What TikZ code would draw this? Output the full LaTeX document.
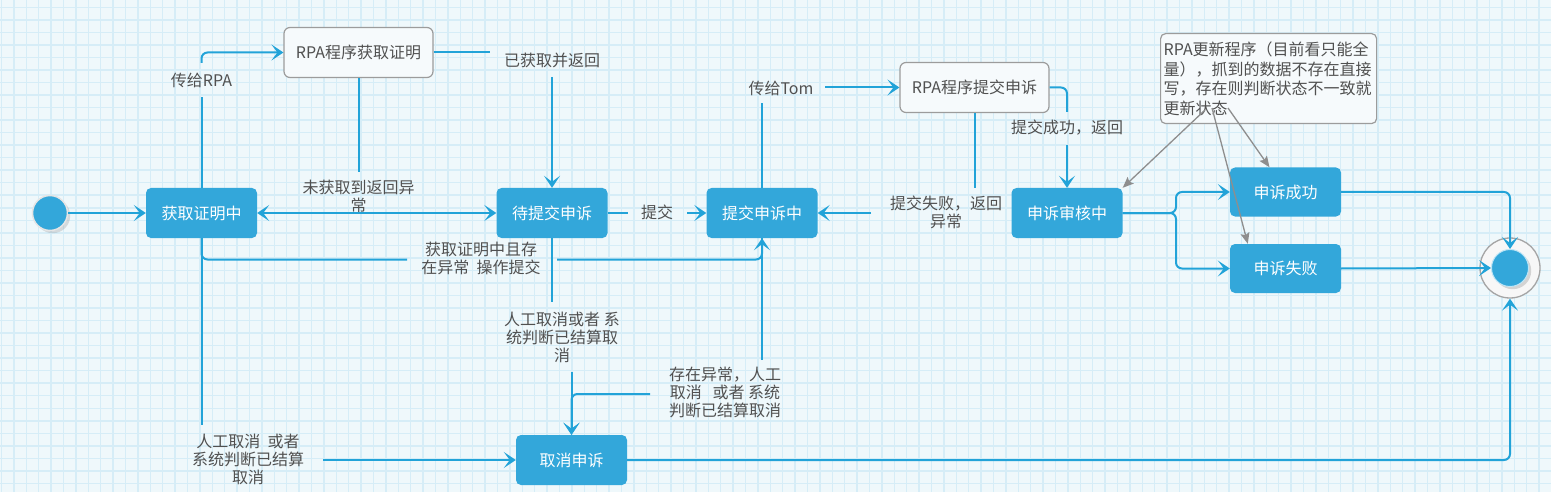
\documentclass[tikz,border=0pt]{standalone}
\usepackage{fontspec}
\setmainfont{Noto Sans CJK SC}
\usetikzlibrary{arrows.meta,shadows}
\definecolor{bg}{HTML}{EFF8FB}
\definecolor{gridc}{HTML}{D6EDF7}
\definecolor{boxblue}{HTML}{33A7DA}
\definecolor{lineblue}{HTML}{22A3D8}
\definecolor{txt}{HTML}{505050}
\definecolor{notegray}{HTML}{8E8E8E}
\definecolor{rpafill}{HTML}{F6FAFC}
\definecolor{rpadraw}{HTML}{9C9C9C}
\definecolor{ringgray}{HTML}{A5A5A5}
\definecolor{innerring}{HTML}{BFE5F5}
\begin{document}
\begin{tikzpicture}[x=1pt,y=-1pt,
  every node/.style={font=\fontsize{16}{18}\selectfont},
  state/.style={rectangle, rounded corners=5pt, fill=boxblue, text=white, minimum width=111pt, minimum height=50pt, inner sep=0pt},
  rpabox/.style={rectangle, rounded corners=6pt, fill=rpafill, draw=rpadraw, line width=1.2pt, text=txt, minimum width=149pt, minimum height=50pt, inner sep=0pt},
  lbl/.style={text=txt, align=center, inner sep=0pt},
  conn/.style={draw=lineblue, line width=2pt, rounded corners=6pt},
  arr/.style={-{Stealth[length=12pt,width=16pt,inset=6pt]}},
  arrboth/.style={{Stealth[length=12pt,width=16pt,inset=6pt]}-{Stealth[length=12pt,width=16pt,inset=6pt]}},
  notearr/.style={draw=notegray, line width=1.3pt, -{Stealth[length=11pt,width=9pt,inset=2pt]}},
]
\useasboundingbox (0,0) rectangle (1551,492);
\fill[bg] (0,0) rectangle (1551,492);
\foreach \i in {0,...,124} \draw[gridc, line width=1.5pt] ({1.5+12.4*\i},0) -- ({1.5+12.4*\i},492);
\foreach \j in {0,...,39} \draw[gridc, line width=1.5pt] (0,{7.3+12.53*\j}) -- (1551,{7.3+12.53*\j});

% states
\node[circle, fill=boxblue, draw=white!80!gray, line width=1.5pt, minimum size=35pt, drop shadow={opacity=0.25}] (start) at (50,213) {};
\node[state] (s1) at (201.5,213) {获取证明中};
\node[state] (s2) at (552,213) {待提交申诉};
\node[state] (s3) at (762,213) {提交申诉中};
\node[state] (s4) at (1067,213) {申诉审核中};
\node[state, minimum height=49pt] (s5) at (1285.5,192) {申诉成功};
\node[state, minimum height=49pt] (s6) at (1285.5,268.5) {申诉失败};
\node[state] (cancel) at (571.5,460) {取消申诉};
\node[rpabox] (rpa1) at (358.5,52.5) {RPA程序获取证明};
\node[rpabox] (rpa2) at (974.5,87.5) {RPA程序提交申诉};
\node[circle, draw=ringgray, line width=1.3pt, fill=white!94!gray, minimum size=60pt] (endout) at (1510,268) {};
\node[circle, fill=boxblue, draw=innerring, line width=1pt, minimum size=37pt, drop shadow={opacity=0.3}] (endin) at (1510,268) {};

% labels
\node[lbl] (lRPA) at (201.5,80) {传给RPA};
\node[lbl] (lB) at (358.5,196) {未获取到返回异\\常};
\node[lbl] (lA) at (552,60) {已获取并返回};
\node[lbl] (lSub) at (657,212) {提交};
\node[lbl] (lTom) at (781,88) {传给Tom};
\node[lbl] (lFail) at (946,212) {提交失败，返回\\异常};
\node[lbl] (lOk) at (1067,127.5) {提交成功，返回};
\node[lbl] (lF) at (481,258) {获取证明中且存\\在异常\ \ 操作提交};
\node[lbl] (lC) at (248,459) {人工取消\ \ 或者\\系统判断已结算\\取消};
\node[lbl] (lD) at (562,337) {人工取消或者 系\\统判断已结算取\\消};
\node[lbl] (lE) at (725,392) {存在异常，人工\\取消\ \ \ 或者 系统\\判断已结算取消};

% gap ends
\coordinate (g1a) at (201.5,97); \coordinate (g1b) at (201.5,63);
\coordinate (g2) at (358.5,172);
\coordinate (g3a) at (490,52.5); \coordinate (g3b) at (552,77);
\coordinate (g4a) at (628,213); \coordinate (g4b) at (687,213);
\coordinate (g5a) at (762,103); \coordinate (g5b) at (825,87.5);
\coordinate (g6a) at (974.5,188); \coordinate (g6b) at (871,213);
\coordinate (g7a) at (1067,112); \coordinate (g7b) at (1067,145);
\coordinate (fork) at (1176,213);
\coordinate (g8a) at (407,259.5); \coordinate (g8b) at (557,259.5);
\coordinate (g9a) at (201.5,425); \coordinate (g9b) at (323,460);
\coordinate (g10a) at (552,302); \coordinate (g10b) at (571.5,372);
\coordinate (g11a) at (762,360); \coordinate (g11b) at (650,394);
\coordinate (n1) at (1205,110); \coordinate (n2) at (1228,108); \coordinate (n3) at (1212,108);

% connectors
\draw[conn,arr] (start) -- (s1);
\draw[conn,arrboth] (s1) -- (s2);
\draw[conn] (s1.north) -- (g1a);
\draw[conn,arr] (g1b) |- (rpa1.west);
\draw[conn] (rpa1.south) -- (g2);
\draw[conn] (rpa1.east) -- (g3a);
\draw[conn,arr] (g3b) -- (s2.north);
\draw[conn] (s2.east) -- (g4a);
\draw[conn,arr] (g4b) -- (s3.west);
\draw[conn] (s3.north) -- (g5a);
\draw[conn,arr] (g5b) -- (rpa2.west);
\draw[conn] (rpa2.south) -- (g6a);
\draw[conn,arr] (g6b) -- (s3.east);
\draw[conn] (rpa2.east) -| (g7a);
\draw[conn,arr] (g7b) -- (s4.north);
\draw[conn,arr] (s4.east) -- (fork) |- (s5.west);
\draw[conn,arr] (s4.east) -- (fork) |- (s6.west);
\draw[conn,arr] (s5.east) -| (endin.north);
\draw[conn,arr] (s6.east) -- (endin.west);
\draw[conn,arr] (cancel.east) -| (endout.south);
\draw[conn] (s1.south) |- (g8a);
\draw[conn,arr] (g8b) -| (s3.south);
\draw[conn] (s1.south) -- (g9a);
\draw[conn,arr] (g9b) -- (cancel.west);
\draw[conn] (s2.south) -- (g10a);
\draw[conn,arr] (g10b) -- (cancel.north);
\draw[conn] (s3.south) -- (g11a);
\draw[conn,arr] (g11b) -| (cancel.north);

% note
\node[rectangle, rounded corners=5pt, draw=rpadraw, fill=rpafill, line width=1.2pt, text=txt, anchor=north west, text width=210pt, minimum height=90pt, inner xsep=3pt, inner ysep=2pt, align=left, font=\fontsize{16}{19.5}\selectfont] (note) at (1160,33) {RPA更新程序（目前看只能全\\量），抓到的数据不存在直接\\写，存在则判断状态不一致就\\更新状态};
\draw[notearr] (n1) -- (s4.north east);
\draw[notearr] (n2) -- ([xshift=-16pt]s5.north);
\draw[notearr] (n3) -- ([xshift=18pt]s6.north west);
\end{tikzpicture}
\end{document}
